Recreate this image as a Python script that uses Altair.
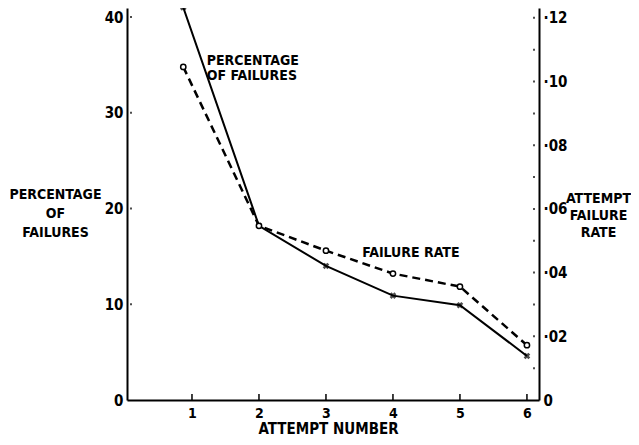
import altair as alt
import pandas as pd

# ---- data ----
attempt = [0.87, 2, 3, 4, 5, 6]
pct_failures = [41.0, 18.2, 14.0, 10.9, 9.9, 4.6]
failure_rate = [0.1046, 0.0547, 0.0469, 0.0397, 0.0356, 0.0172]

x_ticks = [1, 2, 3, 4, 5, 6]
pct_ticks = [0, 10, 20, 30, 40]
pct_dots = [10, 20, 30, 40]
rate_ticks = [0, 0.02, 0.04, 0.06, 0.08, 0.10, 0.12]
rate_dots = [0.01, 0.02, 0.03, 0.04, 0.05, 0.06, 0.07, 0.08, 0.09, 0.10, 0.11, 0.12]

ann_text = ["PERCENTAGE\nOF FAILURES", "FAILURE RATE"]
ann_x = [1.22, 3.54]
ann_y = [35.0, 14.9]

FONT = "DejaVu Sans Condensed"
W, H = 412, 392

df = pd.DataFrame({"attempt": attempt, "pct": pct_failures, "rate": failure_rate})
xt = pd.DataFrame({"attempt": x_ticks})
pdots = pd.DataFrame({"pct": pct_dots})
rdots = pd.DataFrame({"rate": rate_dots})
ann = pd.DataFrame({"text": ann_text, "attempt": ann_x, "pct": ann_y})

xscale = alt.Scale(domain=[0.03, 6.18], nice=False, zero=False)
pscale = alt.Scale(domain=[0, 40.94], nice=False, zero=True)
rscale = alt.Scale(domain=[0, 0.1231], nice=False, zero=True)

x_axis = alt.Axis(
    values=x_ticks, orient="bottom", grid=False, domainColor="black", domainWidth=2,
    tickSize=0, labelPadding=6, labelFont=FONT, labelFontSize=14, labelFontWeight="bold",
    labelColor="black", format="d", title="ATTEMPT NUMBER", titleFont=FONT, titleFontSize=15,
    titleFontWeight="bold", titleColor="black", titleX=201, titleY=33,
    titleAlign="center", titleBaseline="alphabetic", labelFlush=False,
)

left_axis = alt.Axis(
    values=pct_ticks, orient="left", grid=False, domainColor="black", domainWidth=2,
    tickSize=0, labelPadding=4, labelFont=FONT, labelFontSize=15, labelFontWeight="bold",
    labelColor="black", title=["PERCENTAGE", "OF", "FAILURES"], titleAngle=0,
    titleX=-72, titleY=190, titleAlign="center", titleBaseline="alphabetic",
    titleLineHeight=19, titleFont=FONT, titleFontSize=14, titleFontWeight="bold",
    titleColor="black", labelFlush=False,
)

right_axis = alt.Axis(
    values=rate_ticks, orient="right", grid=False, domainColor="black", domainWidth=2,
    tickSize=0, labelPadding=4, labelFont=FONT, labelFontSize=15, labelFontWeight="bold",
    labelColor="black",
    labelExpr="datum.value == 0 ? '0' : '·' + format(round(datum.value * 100), '02d')",
    title=["ATTEMPT", "FAILURE", "RATE"], titleAngle=0, titleX=59, titleY=194,
    titleAlign="center", titleBaseline="alphabetic", titleLineHeight=17,
    titleFont=FONT, titleFontSize=14, titleFontWeight="bold", titleColor="black",
    labelFlush=False,
)

base = alt.Chart(df)

pct_line = base.mark_line(color="black", strokeWidth=2).encode(
    x=alt.X("attempt:Q", scale=xscale, axis=x_axis),
    y=alt.Y("pct:Q", scale=pscale, axis=left_axis),
)
pct_pts = base.mark_point(shape="cross", angle=45, size=45, filled=True, color="black").encode(
    x=alt.X("attempt:Q", scale=xscale),
    y=alt.Y("pct:Q", scale=pscale),
)
left_dots = alt.Chart(pdots).mark_square(size=4, color="black").encode(
    x=alt.value(4),
    y=alt.Y("pct:Q", scale=pscale),
)
x_tick_marks = alt.Chart(xt).mark_rule(color="black", strokeWidth=1.5).encode(
    x=alt.X("attempt:Q", scale=xscale),
    y=alt.value(H - 6),
    y2=alt.value(H),
)
ann_text_layer = alt.Chart(ann).mark_text(
    align="left", baseline="alphabetic", font=FONT, fontSize=14, fontWeight="bold",
    color="black", lineBreak="\n", lineHeight=15,
).encode(
    x=alt.X("attempt:Q", scale=xscale),
    y=alt.Y("pct:Q", scale=pscale),
    text="text:N",
)

rate_line = base.mark_line(color="black", strokeWidth=2.5, strokeDash=[8, 5]).encode(
    x=alt.X("attempt:Q", scale=xscale),
    y=alt.Y("rate:Q", scale=rscale, axis=right_axis),
)
rate_pts = base.mark_point(shape="circle", size=28, filled=True, fill="white",
                           stroke="black", strokeWidth=1.5, opacity=1).encode(
    x=alt.X("attempt:Q", scale=xscale),
    y=alt.Y("rate:Q", scale=rscale),
)
right_dots = alt.Chart(rdots).mark_square(size=4, color="black").encode(
    x=alt.value(W - 5),
    y=alt.Y("rate:Q", scale=rscale),
)

left = alt.layer(pct_line, left_dots, x_tick_marks, ann_text_layer, pct_pts)
right = alt.layer(rate_line, right_dots, rate_pts)

chart = alt.layer(left, right).resolve_scale(y="independent").properties(
    width=W, height=H,
    padding={"left": 119, "top": 0, "right": 92, "bottom": 37},
    autosize=alt.AutoSizeParams(type="none"),
    background="white",
).configure_view(stroke=None)

chart.save("out.html", embed_options={"renderer": "svg", "actions": False})
